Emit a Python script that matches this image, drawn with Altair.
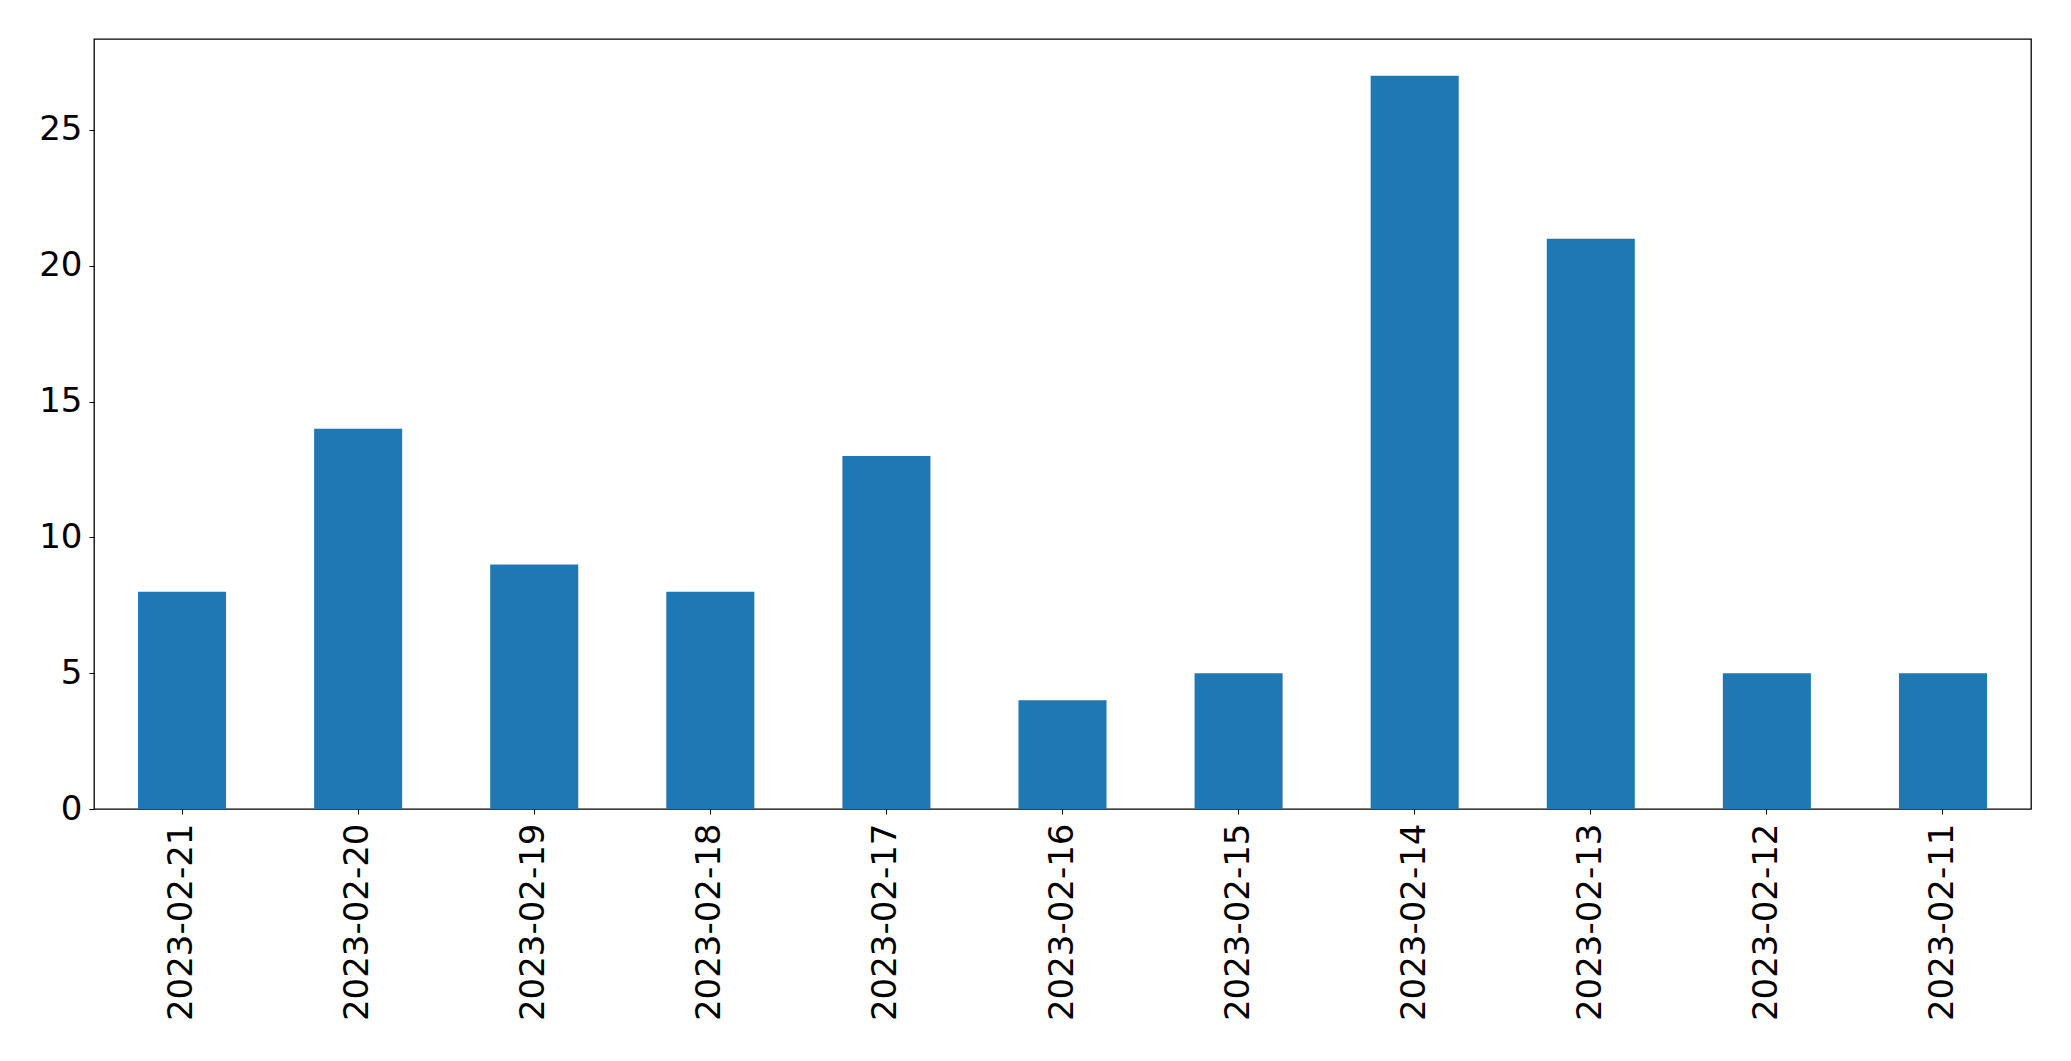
import altair as alt
import pandas as pd

dates = ["2023-02-21", "2023-02-20", "2023-02-19", "2023-02-18", "2023-02-17",
         "2023-02-16", "2023-02-15", "2023-02-14", "2023-02-13", "2023-02-12", "2023-02-11"]
counts = [8, 14, 9, 8, 13, 4, 5, 27, 21, 5, 5]

df = pd.DataFrame({"date": dates, "count": counts})

chart = alt.Chart(df).mark_bar(color="#1f77b4").encode(
    x=alt.X("date:N", sort=dates, title=None,
            scale=alt.Scale(paddingInner=0.5, paddingOuter=0.25),
            axis=alt.Axis(labelAngle=-90, labelFontSize=34, labelFont="DejaVu Sans",
                          labelColor="black", tickColor="black", tickSize=5,
                          domain=False, labelPadding=9, grid=False, labelLimit=0)),
    y=alt.Y("count:Q", title=None,
            scale=alt.Scale(domain=[0, 28.35], nice=False, zero=True),
            axis=alt.Axis(values=[0, 5, 10, 15, 20, 25], labelFontSize=34,
                          labelFont="DejaVu Sans", labelColor="black",
                          tickColor="black", tickSize=5, domain=False,
                          labelPadding=7, grid=False, labelLimit=0)),
).properties(
    width=1937, height=770,
    autosize=alt.AutoSizeParams(type="none"),
    padding={"left": 86, "top": 31, "right": 30, "bottom": 240},
).configure(
    background="white"
).configure_view(
    stroke="black", strokeWidth=1.3
)

chart.save("out.html", embed_options={"renderer": "svg", "actions": False})
